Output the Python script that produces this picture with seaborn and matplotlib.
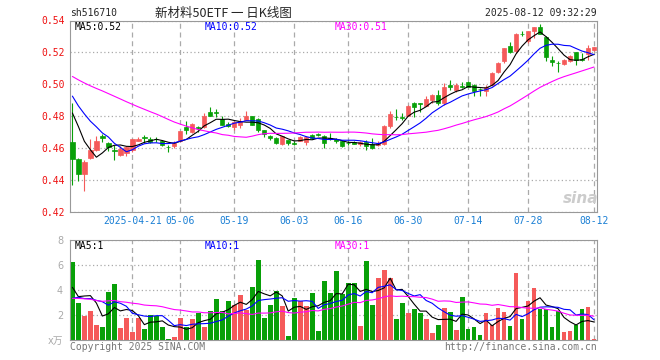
import numpy as np
import pandas as pd
import matplotlib
matplotlib.use("Agg")
import matplotlib.pyplot as plt
import seaborn as sns

# K diario 516710, 2025-04-07 .. 2025-08-12 (88 pregoes)
opens = [.4636, .4532, .4436, .4536, .4586, .4674, .4632, .4590, .4559, .4570,
         .4586, .4645, .4670, .4659, .4660, .4645, .4610, .4616, .4643, .4732,
         .4699, .4733, .4730, .4826, .4826, .4782, .4751, .4730, .4747, .4778,
         .4803, .4782, .4716, .4676, .4661, .4628, .4649, .4630, .4647, .4636,
         .4684, .4686, .4678, .4661, .4657, .4643, .4634, .4638, .4628, .4640,
         .4628, .4620, .4628, .4736, .4798, .4795, .4803, .4886, .4880, .4866,
         .4899, .4935, .4882, .4997, .4966, .4990, .5013, .4993, .4972, .4961,
         .4997, .5080, .5145, .5238, .5207, .5318, .5270, .5336, .5359, .5297,
         .5155, .5136, .5130, .5145, .5201, .5157, .5187, .5218]
highs = [.4882, .4536, .4528, .4657, .4678, .4691, .4639, .4622, .4611, .4611,
         .4659, .4670, .4684, .4670, .4670, .4653, .4622, .4643, .4709, .4768,
         .4757, .4736, .4820, .4857, .4845, .4799, .4761, .4768, .4789, .4830,
         .4803, .4789, .4716, .4682, .4670, .4678, .4653, .4643, .4678, .4674,
         .4691, .4695, .4684, .4695, .4663, .4649, .4643, .4643, .4643, .4649,
         .4661, .4643, .4747, .4830, .4847, .4820, .4872, .4890, .4882, .4924,
         .4941, .4966, .5007, .5028, .5007, .5013, .5018, .5003, .4976, .4997,
         .5080, .5143, .5230, .5264, .5320, .5337, .5337, .5361, .5380, .5305,
         .5176, .5145, .5159, .5182, .5201, .5195, .5249, .5232]
lows = [.4372, .4393, .4330, .4532, .4580, .4641, .4580, .4524, .4549, .4553,
        .4574, .4643, .4632, .4632, .4637, .4611, .4576, .4601, .4641, .4691,
        .4695, .4699, .4726, .4799, .4795, .4743, .4730, .4711, .4726, .4774,
        .4743, .4699, .4670, .4653, .4628, .4622, .4620, .4622, .4643, .4622,
        .4657, .4674, .4601, .4649, .4632, .4607, .4622, .4626, .4616, .4590,
        .4595, .4616, .4622, .4725, .4778, .4778, .4799, .4795, .4824, .4862,
        .4886, .4872, .4872, .4966, .4949, .4976, .4982, .4928, .4928, .4928,
        .4991, .5074, .5133, .5195, .5199, .5301, .5262, .5288, .5316, .5145,
        .5114, .5078, .5122, .5137, .5124, .5145, .5155, .5207]
closes = [.4532, .4436, .4516, .4586, .4647, .4666, .4607, .4585, .4595, .4605,
          .4659, .4659, .4665, .4640, .4655, .4620, .4605, .4632, .4705, .4711,
          .4753, .4728, .4803, .4803, .4820, .4747, .4736, .4761, .4768, .4803,
          .4747, .4716, .4691, .4661, .4632, .4674, .4632, .4628, .4670, .4670,
          .4663, .4684, .4632, .4659, .4643, .4616, .4632, .4628, .4636, .4611,
          .4599, .4632, .4736, .4816, .4795, .4789, .4866, .4861, .4876, .4907,
          .4935, .4882, .4982, .4982, .4997, .4986, .4986, .4961, .4970, .4982,
          .5070, .5136, .5228, .5201, .5318, .5314, .5332, .5359, .5318, .5170,
          .5138, .5134, .5155, .5176, .5151, .5153, .5228, .5232]
volumes = [6.27, 2.99, 1.95, 2.35, 1.23, 1.07, 3.87, 4.48, 0.99, 1.79,
           0.67, 1.79, 0.91, 1.97, 1.92, 1.07, 0.11, 0.27, 1.79, 1.05,
           1.71, 2.13, 1.07, 2.32, 3.28, 2.32, 3.15, 2.77, 3.60, 2.40,
           4.27, 6.40, 1.79, 2.80, 3.92, 2.72, 0.32, 3.36, 3.12, 2.72,
           3.79, 0.72, 4.72, 3.79, 5.55, 3.65, 4.59, 4.53, 1.12, 6.35,
           2.80, 4.99, 5.60, 4.99, 1.68, 2.99, 2.19, 2.51, 2.19, 1.68,
           0.59, 1.20, 2.59, 2.27, 0.80, 3.47, 0.88, 1.01, 0.40, 2.19,
           1.20, 2.59, 2.27, 1.12, 5.39, 1.68, 3.15, 4.19, 2.48, 2.48,
           1.07, 2.32, 0.67, 0.75, 1.20, 2.48, 2.67, 0.11]

# pregoes anteriores (estimados), usados so para as medias moveis
prev_close = [.508, .510, .512, .514, .513, .511, .509, .510, .512, .515,
              .514, .512, .510, .509, .511, .513, .512, .510, .508, .509,
              .505, .502, .504, .500, .505, .486, .498, .485, .488]
prev_vol = [3.1, 2.8, 3.6, 4.2, 3.0, 2.7, 3.5, 3.9, 3.2, 2.9,
            3.4, 3.8, 3.1, 2.6, 3.3, 3.7, 3.5, 3.0, 3.2, 4.1,
            2.1, 3.0, 2.4, 2.6, 2.15, 6.69, 1.7, 2.2, 4.19]

holidays = ["2025-05-01", "2025-05-02", "2025-05-05", "2025-06-02"]
tick_dates = ["2025-04-21", "2025-05-06", "2025-05-19", "2025-06-03", "2025-06-16",
              "2025-06-30", "2025-07-14", "2025-07-28", "2025-08-12"]

RED, GREEN = "#f55a5a", "#08a008"
GRAY = "#999999"

dias = pd.bdate_range("2025-04-07", "2025-08-12")
dias = dias[~dias.isin(pd.to_datetime(holidays))]
df = pd.DataFrame({"data": dias, "o": opens, "h": highs, "l": lows,
                   "c": closes, "v": volumes})
df["x"] = np.arange(len(df))
df["cor"] = np.where(df["c"] >= df["o"], RED, GREEN)

n_prev = len(prev_close)
c_all = pd.Series(prev_close + closes)
v_all = pd.Series(prev_vol + volumes)
for w in (5, 10, 30):
    df[f"ma{w}"] = c_all.rolling(w).mean().iloc[n_prev:].values
    df[f"vma{w}"] = v_all.rolling(w).mean().iloc[n_prev:].values

tick_pos = [int(np.where(df["data"] == pd.Timestamp(d))[0][0]) for d in tick_dates]
tick_lab = [tick_dates[0]] + [d[5:] for d in tick_dates[1:]]

sns.set_theme(style="white", rc={"axes.edgecolor": GRAY, "axes.linewidth": 0.8})
plt.rcParams["font.family"] = ["DejaVu Sans Mono", "Noto Sans CJK SC"]

W, H = 660, 360
fig = plt.figure(figsize=(6.6, 3.6), dpi=100)
ax1 = fig.add_axes([70 / W, 1 - 212 / H, 527 / W, 191.5 / H])
ax2 = fig.add_axes([70 / W, 1 - 340 / H, 527 / W, 100 / H])

# candles
ax1.vlines(df["x"], df["l"], df["h"], colors=df["cor"], lw=0.8, zorder=2)
ax1.bar(df["x"], (df["c"] - df["o"]).abs(), bottom=df[["o", "c"]].min(axis=1),
        width=0.72, color=df["cor"], edgecolor=df["cor"], linewidth=0.5, zorder=3)
for col, cor in (("ma5", "black"), ("ma10", "#0000ff"), ("ma30", "#ff00ff")):
    sns.lineplot(data=df, x="x", y=col, color=cor, lw=0.8, ax=ax1, zorder=4)

# volume
ax2.bar(df["x"], df["v"], width=0.8, color=df["cor"], linewidth=0, zorder=2)
for col, cor in (("vma5", "black"), ("vma10", "#0000ff"), ("vma30", "#ff00ff")):
    sns.lineplot(data=df, x="x", y=col, color=cor, lw=0.8, ax=ax2, zorder=4)

for ax in (ax1, ax2):
    ax.set_xlim(-0.4, len(df) - 0.5)
    ax.set_xlabel(""); ax.set_ylabel("")
    ax.set_xticks(tick_pos)
    ax.grid(True, axis="x", color="#aaaaaa", ls=(0, (4, 3)), lw=0.9)
    ax.grid(True, axis="y", color="#aaaaaa", ls=(0, (1, 2)), lw=0.9)
    ax.tick_params(length=0)
    ax.set_axisbelow(True)

ax1.set_ylim(0.42, 0.54)
ax1.set_yticks(np.arange(0.42, 0.5401, 0.02))
ax1.set_yticklabels([f"{t:.2f}" for t in ax1.get_yticks()], color="#ee1111", fontsize=7)
ax1.tick_params(axis="y", pad=4)
ax1.set_xticklabels(tick_lab, color="#1a7fd4", fontsize=7)
ax1.tick_params(axis="x", pad=3)

ax2.set_ylim(0, 8)
ax2.set_yticks([0, 2, 4, 6, 8])
ax2.set_yticklabels(["x万", "2", "4", "6", "8"], color="#aaaaaa", fontsize=7,
                    family=["DejaVu Sans", "Noto Sans CJK SC"])
ax2.tick_params(axis="y", pad=5)
ax2.set_xticklabels([])


def fx(px):
    return px / W


def fy(py):
    return 1 - py / H


fig.text(fx(70), fy(13), "sh516710", fontsize=7, va="center")
fig.text(fx(223), fy(13), "新材料50ETF 一 日K线图", fontsize=9, ha="center", va="center",
         family=["Noto Sans CJK SC", "DejaVu Sans"])
fig.text(fx(597), fy(13), "2025-08-12 09:32:29", fontsize=7, ha="right", va="center")

fig.text(fx(75), fy(27), "MA5:0.52", fontsize=7, va="center", color="black")
fig.text(fx(205), fy(27), "MA10:0.52", fontsize=7, va="center", color="#0000ff")
fig.text(fx(335), fy(27), "MA30:0.51", fontsize=7, va="center", color="#ff00ff")
fig.text(fx(75), fy(246), "MA5:1", fontsize=7, va="center", color="black")
fig.text(fx(205), fy(246), "MA10:1", fontsize=7, va="center", color="#0000ff")
fig.text(fx(335), fy(246), "MA30:1", fontsize=7, va="center", color="#ff00ff")

fig.text(fx(70), fy(347), "Copyright 2025 SINA.COM", fontsize=7, va="center", color="#777777")
fig.text(fx(597), fy(347), "http://finance.sina.com.cn", fontsize=7, ha="right",
         va="center", color="#777777")
fig.text(fx(581), fy(198), "sina", fontsize=11, ha="center", va="center", color="#cccccc",
         style="italic", weight="bold", family="DejaVu Sans")

fig.savefig("out.png", dpi=100)
plt.close(fig)
